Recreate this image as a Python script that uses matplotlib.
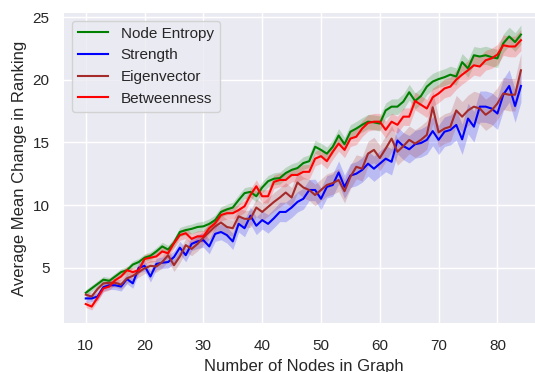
import numpy as np
import matplotlib
matplotlib.use("Agg")
import matplotlib.pyplot as plt

nodes = list(range(10, 85))

entropy = [3.0, 3.35, 3.7, 4.05, 3.95, 4.3, 4.65, 4.8, 5.25, 5.45,
           5.8, 5.95, 6.3, 6.7, 6.45, 7.0, 7.85, 8.0, 8.1, 8.25,
           8.3, 8.5, 8.8, 9.45, 9.65, 9.8, 10.4, 10.95, 11.05, 10.7,
           11.4, 11.9, 12.1, 12.15, 12.55, 12.8, 12.95, 13.35, 13.5, 14.65,
           14.4, 14.1, 14.65, 15.55, 14.85, 15.85, 16.1, 16.4, 16.65, 16.6,
           16.5, 17.55, 17.85, 17.85, 18.25, 19.0, 18.3, 18.7, 19.45, 19.85,
           20.05, 20.2, 20.4, 20.25, 21.4, 20.9, 21.95, 21.85, 21.95, 21.8,
           21.7, 22.9, 23.45, 23.0, 23.6]
strength = [2.55, 2.55, 2.7, 3.45, 3.6, 3.6, 3.5, 4.1, 3.75, 5.0,
            5.15, 4.3, 5.3, 5.4, 5.45, 5.85, 6.6, 6.0, 6.9, 7.1,
            7.2, 6.7, 7.7, 7.85, 7.6, 7.1, 8.5, 8.15, 9.15, 8.35,
            8.8, 8.5, 8.95, 9.45, 9.45, 9.8, 10.25, 10.5, 11.2, 11.2,
            10.5, 11.45, 11.6, 12.6, 11.45, 12.35, 12.5, 12.8, 13.3, 12.9,
            13.3, 13.7, 13.45, 15.15, 14.7, 14.45, 14.85, 14.95, 15.2, 15.9,
            15.2, 15.85, 15.99, 16.39, 15.24, 16.9, 16.25, 17.85, 17.85, 17.7,
            17.3, 18.8, 19.5, 17.9, 19.5]
eigenvector = [2.85, 2.7, 3.3, 3.75, 3.8, 3.8, 3.65, 4.15, 4.35, 4.65,
               4.95, 5.15, 5.1, 5.45, 6.0, 5.2, 5.9, 6.8, 6.5, 6.9,
               7.4, 7.85, 8.3, 8.6, 8.25, 8.15, 9.1, 8.9, 8.9, 9.8,
               9.45, 9.85, 10.25, 10.6, 11.0, 10.6, 11.8, 11.4, 11.2, 10.8,
               11.2, 11.6, 11.75, 12.0, 11.1, 12.25, 13.05, 12.9, 14.1, 14.4,
               13.75, 14.5, 15.3, 14.25, 14.7, 15.2, 14.9, 15.2, 15.6, 17.8,
               15.8, 16.1, 16.25, 17.55, 17.05, 17.55, 17.85, 17.7, 17.2, 17.55,
               18.1, 18.9, 18.8, 18.8, 20.75]
betweenness = [2.1, 1.9, 2.6, 3.35, 3.5, 4.0, 4.3, 4.8, 4.65, 4.8,
               5.7, 5.8, 5.9, 6.3, 6.15, 6.95, 7.6, 7.75, 7.3, 7.5,
               7.5, 8.15, 8.55, 9.2, 9.35, 9.35, 9.6, 9.9, 10.8, 11.5,
               10.7, 10.7, 11.85, 12.0, 12.0, 12.4, 12.4, 12.65, 12.65, 13.7,
               13.9, 13.5, 14.25, 14.9, 14.4, 15.3, 15.45, 16.1, 16.55, 16.65,
               16.65, 16.0, 16.65, 16.4, 17.05, 17.05, 18.3, 18.0, 17.7, 18.6,
               18.9, 19.3, 19.45, 20.0, 20.4, 20.75, 21.15, 21.05, 21.55, 21.7,
               22.0, 22.75, 22.65, 22.65, 23.15]

# half-width of the confidence band around each mean
entropy_ci = [0.25, 0.25, 0.26, 0.26, 0.27, 0.27, 0.28, 0.28, 0.29, 0.29,
              0.3, 0.31, 0.32, 0.33, 0.34, 0.35, 0.36, 0.37, 0.38, 0.39,
              0.4, 0.4, 0.41, 0.41, 0.42, 0.42, 0.43, 0.44, 0.44, 0.45,
              0.46, 0.46, 0.47, 0.48, 0.48, 0.49, 0.5, 0.5, 0.51, 0.52,
              0.53, 0.53, 0.54, 0.55, 0.55, 0.56, 0.57, 0.57, 0.58, 0.59,
              0.6, 0.6, 0.61, 0.62, 0.62, 0.63, 0.64, 0.64, 0.65, 0.66,
              0.66, 0.67, 0.68, 0.68, 0.69, 0.7, 0.7, 0.71, 0.72, 0.72,
              0.73, 0.74, 0.74, 0.75, 0.76]
strength_ci = [0.28, 0.29, 0.3, 0.32, 0.33, 0.35, 0.36, 0.38, 0.39, 0.41,
               0.42, 0.44, 0.45, 0.47, 0.48, 0.5, 0.51, 0.53, 0.54, 0.56,
               0.57, 0.59, 0.6, 0.62, 0.63, 0.65, 0.66, 0.68, 0.69, 0.71,
               0.72, 0.74, 0.75, 0.77, 0.78, 0.8, 0.81, 0.83, 0.84, 0.86,
               0.87, 0.89, 0.9, 0.92, 0.93, 0.95, 0.96, 0.98, 0.99, 1.01,
               1.02, 1.04, 1.05, 1.07, 1.08, 1.1, 1.11, 1.13, 1.14, 1.16,
               1.17, 1.18, 1.19, 1.2, 1.21, 1.22, 1.23, 1.24, 1.25, 1.26,
               1.27, 1.28, 1.29, 1.3, 1.3]
eigenvector_ci = [0.28, 0.29, 0.3, 0.32, 0.33, 0.35, 0.36, 0.38, 0.39, 0.41,
                  0.42, 0.44, 0.45, 0.47, 0.48, 0.5, 0.51, 0.53, 0.54, 0.56,
                  0.57, 0.59, 0.6, 0.62, 0.63, 0.65, 0.66, 0.68, 0.69, 0.71,
                  0.72, 0.74, 0.75, 0.77, 0.78, 0.8, 0.81, 0.83, 0.84, 0.86,
                  0.87, 0.89, 0.9, 0.92, 0.93, 0.95, 0.96, 0.98, 0.99, 1.01,
                  1.02, 1.04, 1.05, 1.07, 1.08, 1.1, 1.11, 1.13, 1.14, 1.3,
                  1.17, 1.18, 1.19, 1.2, 1.21, 1.22, 1.23, 1.24, 1.25, 1.26,
                  1.27, 1.28, 1.29, 1.3, 1.35]
betweenness_ci = [0.27, 0.27, 0.28, 0.28, 0.29, 0.3, 0.31, 0.32, 0.33, 0.34,
                  0.35, 0.36, 0.37, 0.38, 0.39, 0.4, 0.41, 0.42, 0.43, 0.44,
                  0.45, 0.45, 0.46, 0.47, 0.47, 0.48, 0.49, 0.5, 0.5, 0.51,
                  0.52, 0.53, 0.53, 0.54, 0.55, 0.55, 0.56, 0.57, 0.58, 0.58,
                  0.59, 0.6, 0.6, 0.61, 0.62, 0.63, 0.63, 0.64, 0.65, 0.66,
                  0.66, 0.67, 0.68, 0.68, 0.69, 0.7, 0.71, 0.71, 0.72, 0.73,
                  0.74, 0.74, 0.75, 0.76, 0.76, 0.77, 0.78, 0.79, 0.79, 0.8,
                  0.81, 0.81, 0.82, 0.83, 0.84]

series = [
    ("Node Entropy", entropy, entropy_ci, "green"),
    ("Strength", strength, strength_ci, "blue"),
    ("Eigenvector", eigenvector, eigenvector_ci, "brown"),
    ("Betweenness", betweenness, betweenness_ci, "red"),
]

plt.rcParams['font.family'] = ['Liberation Sans', 'DejaVu Sans']
plt.rcParams['text.color'] = '.15'
plt.rcParams['axes.labelcolor'] = '.15'
plt.rcParams['xtick.color'] = '.15'
plt.rcParams['ytick.color'] = '.15'

fig = plt.figure(figsize=(5.35, 3.72), dpi=100)
ax = fig.add_axes([64 / 535, 49 / 372, (542.7 - 64) / 535, 310 / 372])
ax.set_facecolor('#EAEAF2')
for s in ax.spines.values():
    s.set_visible(False)
ax.grid(True, color='white', linewidth=1)
ax.set_axisbelow(True)

x = np.array(nodes)
for name, mean, ci, col in series:
    m = np.array(mean)
    e = np.array(ci)
    ax.plot(x, m, color=col, lw=1.5, label=name)
    ax.fill_between(x, m - e, m + e, color=col, alpha=0.2, linewidth=0)

ax.set_xlim(6.3, 87.7)
ax.set_ylim(0.59, 25.32)
ax.set_xticks([10, 20, 30, 40, 50, 60, 70, 80])
ax.set_yticks([5, 10, 15, 20, 25])
ax.tick_params(axis='x', length=0, pad=11.5, labelsize=11)
ax.tick_params(axis='y', length=0, pad=10.5, labelsize=11)
ax.set_xlabel('Number of Nodes in Graph', fontsize=12)
ax.set_ylabel('Average Mean Change in Ranking', fontsize=12)

leg = ax.legend(loc='upper left', fontsize=11, facecolor='#EAEAF2',
                edgecolor='0.8', framealpha=0.8)

fig.savefig('out.png', dpi=100)
